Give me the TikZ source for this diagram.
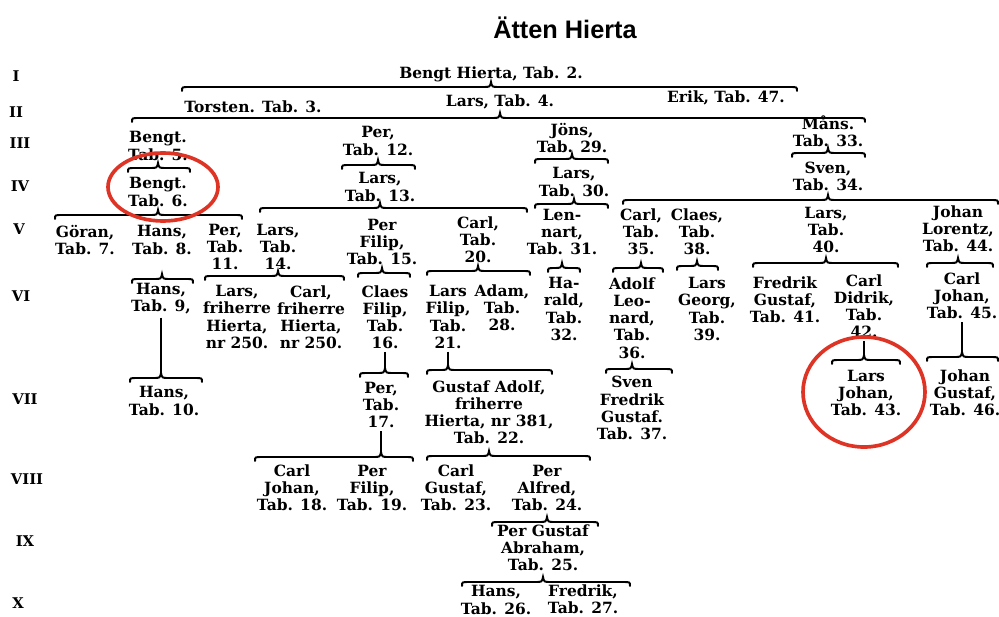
\documentclass[tikz,border=0pt]{standalone}
\usepackage{fontspec}
\setmainfont{DejaVu Serif}
\newfontfamily\headfont{Liberation Sans}
\usetikzlibrary{calc}

\definecolor{ringred}{RGB}{221,52,38}
\tikzset{
  gen/.style={font=\bfseries\fontsize{11}{12.2}\selectfont, align=center, inner sep=0pt},
  lvl/.style={font=\bfseries\fontsize{10.5}{12}\selectfont, inner sep=0pt},
  kin/.style={line width=1.4pt, line cap=round},
  stem/.style={line width=0.8pt, shorten <=2pt},
  ring/.style={draw=ringred, line width=2.6pt}
}
% brace under a parent: parent node, left x, right x, height
\newcommand\famline[4]{%
  \coordinate (tip) at (#1.center |- 0,#4);
  \draw[kin] (#2,#4+4) .. controls (#2,#4) .. (#2+7,#4) -- ($(tip)+(-8,0)$)
    .. controls ($(tip)+(-1,0)$) .. ($(tip)+(0,-5)$)
    .. controls ($(tip)+(1,0)$) .. ($(tip)+(8,0)$) -- (#3-7,#4)
    .. controls (#3,#4) .. (#3,#4+4);}

\begin{document}
\begin{tikzpicture}[x=0.025cm,y=-0.025cm]
\useasboundingbox (0,0) rectangle (999,617);
\fill[white] (0,0) rectangle (999,617);

\node[font=\headfont\bfseries\fontsize{18}{20}\selectfont, anchor=base] (title) at (565,39) {Ätten Hierta};

% generations
\node[lvl] (r1) at (16,76) {I};
\node[lvl] (r2) at (16,112) {II};
\node[lvl] (r3) at (20,143) {III};
\node[lvl] (r4) at (20,186) {IV};
\node[lvl] (r5) at (19,229) {V};
\node[lvl] (r6) at (21,296) {VI};
\node[lvl] (r7) at (25,399) {VII};
\node[lvl] (r8) at (27,479) {VIII};
\node[lvl] (r9) at (25,541) {IX};
\node[lvl] (r10) at (18,603) {X};

% I - II
\node[gen] (n2) at (491,74) {Bengt Hierta, Tab. 2.};
\node[gen] (n3) at (253,107) {Torsten. Tab. 3.};
\node[gen] (n4) at (500,102) {Lars, Tab. 4.};
\node[gen] (n47) at (726,98) {Erik, Tab. 47.};
\famline{n2}{182}{797}{87}
\famline{n4}{132}{865}{118}

% III - IV
\node[gen] (n5) at (158,146) {Bengt.\\Tab. 5.};
\node[gen] (n12) at (378,141) {Per,\\Tab. 12.};
\node[gen] (n29) at (572,138) {Jöns,\\Tab. 29.};
\node[gen] (n33) at (828,131) {Måns.\\Tab. 33.};
\famline{n5}{128}{190}{168}
\famline{n12}{342}{415}{165}
\famline{n29}{535}{608}{159}
\famline{n33}{792}{865}{153}
\node[gen] (n6) at (158,192) {Bengt.\\Tab. 6.};
\node[gen] (n13) at (380,187) {Lars,\\Tab. 13.};
\node[gen] (n30) at (574,182) {Lars,\\Tab. 30.};
\node[gen] (n34) at (828,176) {Sven,\\Tab. 34.};
\famline{n6}{55}{242}{215}
\famline{n13}{260}{527}{208}
\famline{n30}{535}{608}{204}
\famline{n34}{623}{998}{200}

% V
\node[gen] (n7) at (85,240) {Göran,\\Tab. 7.};
\node[gen] (n8) at (162,240) {Hans,\\Tab. 8.};
\node[gen] (n11) at (225,247) {Per,\\Tab.\\11.};
\node[gen] (n14) at (278,247) {Lars,\\Tab.\\14.};
\node[gen] (n15) at (382,242) {Per\\Filip,\\Tab. 15.};
\node[gen] (n20) at (478,240) {Carl,\\Tab.\\20.};
\node[gen] (n31) at (562,232) {Len-\\nart,\\Tab. 31.};
\node[gen] (n35) at (641,232) {Carl,\\Tab.\\35.};
\node[gen] (n38) at (697,232) {Claes,\\Tab.\\38.};
\node[gen] (n40) at (826,230) {Lars,\\Tab.\\40.};
\node[gen] (n44) at (958,229) {Johan\\Lorentz,\\Tab. 44.};
\famline{n8}{132}{193}{279}
\famline{n14}{205}{344}{276}
\famline{n15}{358}{410}{273}
\famline{n20}{427}{530}{271}
\famline{n31}{548}{580}{268}
\famline{n35}{613}{663}{268}
\famline{n38}{677}{718}{266}
\famline{n40}{753}{898}{263}
\famline{n44}{927}{993}{263}

% VI
\node[gen] (n9) at (161,299) {Hans,\\Tab. 9,};
\node[gen] (nL250) at (237,317) {Lars,\\friherre\\Hierta,\\nr 250.};
\node[gen] (nC250) at (311,317) {Carl,\\friherre\\Hierta,\\nr 250.};
\node[gen] (n16) at (385,317) {Claes\\Filip,\\Tab.\\16.};
\node[gen] (n21) at (448,317) {Lars\\Filip,\\Tab.\\21.};
\node[gen] (n28) at (502,308) {Adam,\\Tab.\\28.};
\node[gen] (n32) at (564,309) {Ha-\\rald,\\Tab.\\32.};
\node[gen] (n36) at (632,318) {Adolf\\Leo-\\nard,\\Tab.\\36.};
\node[gen] (n39) at (707,309) {Lars\\Georg,\\Tab.\\39.};
\node[gen] (n41) at (785,300) {Fredrik\\Gustaf,\\Tab. 41.};
\node[gen] (n42) at (864,306) {Carl\\Didrik,\\Tab.\\42.};
\node[gen] (n45) at (962,296) {Carl\\Johan,\\Tab. 45.};
\draw[stem] (n9.south) -- (n9.south |- 0,374);
\famline{n9}{130}{202}{378}
\draw[stem] (n16.south) -- (n16.south |- 0,369);
\famline{n16}{360}{408}{373}
\draw[stem] (n21.south) -- (n21.south |- 0,366);
\famline{n21}{427}{552}{370}
\famline{n36}{606}{672}{369}
\draw[stem] (n42.south) -- (n42.south |- 0,356);
\famline{n42}{832}{900}{360}
\draw[stem] (n45.south) -- (n45.south |- 0,353);
\famline{n45}{927}{998}{357}

% VII
\node[gen] (n10) at (164,401) {Hans,\\Tab. 10.};
\node[gen] (n17) at (381,405) {Per,\\Tab.\\17.};
\node[gen] (n22) at (489,412) {Gustaf Adolf,\\friherre\\Hierta, nr 381,\\Tab. 22.};
\node[gen] (n37) at (632,408) {Sven\\Fredrik\\Gustaf.\\Tab. 37.};
\node[gen] (n43) at (866,393) {Lars\\Johan,\\Tab. 43.};
\node[gen] (n46) at (965,393) {Johan\\Gustaf,\\Tab. 46.};
\draw[stem] (n17.south) -- (n17.south |- 0,453);
\famline{n17}{255}{413}{457}
\famline{n22}{427}{590}{456}

% VIII - X
\node[gen] (n18) at (292,488) {Carl\\Johan,\\Tab. 18.};
\node[gen] (n19) at (372,488) {Per\\Filip,\\Tab. 19.};
\node[gen] (n23) at (456,488) {Carl\\Gustaf,\\Tab. 23.};
\node[gen] (n24) at (547,488) {Per\\Alfred,\\Tab. 24.};
\famline{n24}{492}{598}{522}
\node[gen] (n25) at (543,548) {Per Gustaf\\Abraham,\\Tab. 25.};
\famline{n25}{462}{630}{582}
\node[gen] (n26) at (496,600) {Hans,\\Tab. 26.};
\node[gen] (n27) at (583,599) {Fredrik,\\Tab. 27.};

% marks
\draw[ring] (163,187) ellipse [x radius=55, y radius=34];
\draw[ring] (864,392) ellipse [x radius=61, y radius=55];

\end{tikzpicture}
\end{document}
